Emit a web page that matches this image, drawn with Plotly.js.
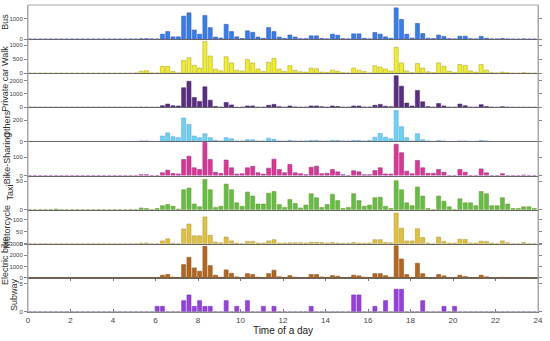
<!DOCTYPE html>
<html>
<head>
<meta charset="utf-8">
<script src="https://cdn.plot.ly/plotly-3.0.1.min.js"></script>
<style>html,body{margin:0;padding:0;background:#fff;}#chart{width:550px;height:341px;}</style>
</head>
<body>
<div id="chart"></div>
<script>
// 15-minute slots, value per slot (slot start = 0:00 ... 23:45), 4 values per hour
const seriesNames = ["Subway", "Electric bike", "Motorcycle", "Taxi", "Bike-Sharing", "Others", "Private car", "Walk", "Bus"];

const bus = [
  0,0,0,0, 0,0,0,0, 0,0,0,0, 0,0,0,0, 0,0,0,0,
  0,15,20,10,      // 5
  0,240,365,110,   // 6
  110,1110,1270,440, // 7
  240,1140,555,100,  // 8
  50,715,365,110,  // 9
  30,400,330,100,  // 10
  40,555,365,100,  // 11
  30,200,100,20,   // 12
  20,160,160,30,   // 13
  10,240,190,20,   // 14
  10,255,255,40,   // 15
  10,320,240,110,  // 16
  40,1510,950,240, // 17
  50,760,270,40,   // 18
  30,200,130,20,   // 19
  10,140,140,20,   // 20
  10,130,40,10,    // 21
  10,30,10,0,      // 22
  0,10,0,0         // 23
];
const walk = [
  0,0,0,0, 0,0,0,0, 0,0,0,0, 0,0,0,0, 0,0,0,0,
  10,70,90,10,
  10,245,245,60,
  10,455,555,285,
  185,1130,615,150,
  85,590,370,110,
  80,490,370,150,
  60,390,530,150,
  60,270,100,50,
  40,185,160,40,
  30,110,70,20,
  10,185,110,60,
  10,270,220,150,
  80,925,370,80,
  20,345,185,50,
  20,370,245,70,
  20,310,285,80,
  40,310,110,20,
  10,40,20,0,
  0,20,0,0
];
const privateCar = [
  0,0,0,0, 0,0,0,0, 0,0,0,0, 0,0,0,0, 0,0,0,0,
  0,10,10,0,
  0,120,240,120,
  100,1460,1950,730,
  440,1530,535,70,
  10,365,180,0,
  10,100,100,10,
  10,150,220,50,
  10,100,30,10,
  10,100,100,40,
  10,100,60,10,
  10,100,100,20,
  20,150,220,80,
  40,2360,1580,315,
  100,1265,410,50,
  10,280,100,10,
  10,240,120,10,
  10,200,60,10,
  0,50,10,0,
  0,0,0,0
];
const others = [
  0,0,0,0, 0,0,0,0, 0,0,0,0, 0,0,0,0, 0,0,0,0,
  0,5,5,0,
  0,50,80,45,
  35,220,160,50,
  35,72,35,10,
  5,35,25,5,
  5,15,15,5,
  5,30,20,5,
  5,10,5,5,
  5,10,10,5,
  5,10,10,5,
  5,10,10,5,
  10,40,75,40,
  25,290,138,35,
  5,72,15,5,
  0,10,5,0,
  0,5,5,0,
  0,10,5,0,
  0,0,0,0,
  0,0,0,0
];
const bikeSharing = [
  0,0,0,0, 0,0,0,0, 0,0,0,0, 0,0,0,0, 0,0,0,0,
  0,5,5,0,
  0,15,29,11,
  9,87,105,42,
  33,180,87,18,
  11,84,42,8,
  10,42,50,15,
  8,40,89,33,
  15,60,15,10,
  5,45,51,10,
  12,33,20,5,
  0,26,20,5,
  5,27,42,9,
  8,170,124,24,
  10,82,42,12,
  12,33,18,0,
  0,33,18,0,
  0,36,15,0,
  0,10,0,0,
  0,3,0,0
];
const taxi = [
  0,0,0,0, 0,1,0,0, 0,0,0,0, 0,0,0,0, 0,0,0,0,
  0,3,2,0,
  2,7,9,6,
  1,35,38,10,
  5,53,35,4,
  6,45,35,12,
  6,31,24,10,
  10,29,32,9,
  4,18,11,3,
  8,28,21,4,
  9,27,16,2,
  4,28,16,6,
  8,21,22,6,
  2,51,35,12,
  7,40,24,2,
  0,24,15,5,
  0,19,12,12,
  7,32,28,7,
  7,21,10,2,
  2,5,5,2
];
const motorcycle = [
  0,0,0,0, 0,0,0,0, 0,0,0,0, 0,0,0,0, 0,0,0,0,
  0,3,3,0,
  0,12,21,2,
  0,62,82,33,
  33,112,35,7,
  4,28,12,3,
  0,10,10,3,
  3,12,17,3,
  3,4,4,4,
  3,6,6,5,
  3,5,3,2,
  2,5,3,2,
  3,17,17,5,
  4,128,65,12,
  12,63,26,3,
  0,28,10,3,
  3,19,18,3,
  3,11,10,3,
  0,12,4,0,
  0,5,0,0
];
const electricBike = [
  0,0,0,0, 0,0,0,0, 0,0,0,0, 0,0,0,0, 0,0,0,0,
  0,30,30,0,
  0,240,300,60,
  30,1180,1830,885,
  590,2800,1090,240,
  60,710,410,90,
  30,380,300,60,
  30,380,680,100,
  30,200,60,0,
  30,300,300,80,
  0,200,150,0,
  0,240,180,60,
  30,380,380,200,
  60,2850,1680,300,
  50,1300,380,40,
  0,300,180,0,
  0,240,120,0,
  0,240,90,0,
  0,50,0,0,
  0,0,0,0
];
const subway = [
  0,0,0,0, 0,0,0,0, 0,0,0,0, 0,0,0,0, 0,0,0,0,
  0,0,0,0,
  1,1,0,0,
  0,2,3,1,
  2,1,1,0,
  0,2,0,1,
  0,2,0,0,
  1,0,1,0,
  0,0,0,0,
  0,1,0,0,
  0,0,0,0,
  0,3,3,0,
  0,1,0,2,
  0,4,4,0,
  0,0,2,0,
  0,0,1,0,
  1,0,0,0,
  0,0,0,0,
  0,0,0,0,
  0,0,0,0
];

const xTicks = [0,2,4,6,8,10,12,14,16,18,20,22,24];

// bottom to top
const panels = [
  {name:"Subway",        y:subway,       range:[0,6],    ticks:[0,5],            fill:"#9b3ce0", line:"#7040c0"},
  {name:"Electric bike", y:electricBike, range:[0,3030], ticks:[0,1000,2000,3000], fill:"#b5661c", line:"#8a5a28"},
  {name:"Motorcycle",    y:motorcycle,   range:[0,142],  ticks:[0,50,100],       fill:"#e2c235", line:"#b09a50"},
  {name:"Taxi",          y:taxi,         range:[0,60],   ticks:[0,50],           fill:"#5fc043", line:"#7a9a3a"},
  {name:"Bike-Sharing",  y:bikeSharing,  range:[0,185],  ticks:[0,100],          fill:"#e4338f", line:"#8e3a9c"},
  {name:"Others",        y:others,       range:[0,320],  ticks:[0,200],          fill:"#66d4f2", line:"#6aa0e0"},
  {name:"Private car",   y:privateCar,   range:[0,2550], ticks:[0,1000,2000],    fill:"#5b2c83", line:"#4a2a6a"},
  {name:"Walk",          y:walk,         range:[0,1220], ticks:[0,500,1000],     fill:"#eef020", line:"#b8a83a"},
  {name:"Bus",           y:bus,          range:[0,1650], ticks:[0,1000],         fill:"#2f80ea", line:"#4657c9"}
];

const slotStart = Array.from({length:96}, (_, k) => k * 0.25);

const n = panels.length;
const traces = [];
const layout = {
  width: 550, height: 341,
  margin: {l: 28, r: 12, t: 5, b: 29},
  paper_bgcolor: "#fff", plot_bgcolor: "#fff",
  showlegend: false,
  bargap: 0,
  font: {family: "Arial, Liberation Sans, sans-serif", color: "#333"},
  shapes: [{type: "rect", xref: "paper", yref: "paper", x0: 0, x1: 1, y0: 0, y1: 1,
            line: {color: "#a8a8a8", width: 1}, layer: "above"}]
};

panels.forEach((p, i) => {
  const sfx = i === 0 ? "" : String(i + 1);
  traces.push({
    type: "bar", x: slotStart, y: p.y, name: p.name,
    xaxis: "x" + sfx, yaxis: "y" + sfx,
    width: 0.19, offset: -0.02,
    marker: {color: p.fill, line: {color: p.line, width: 0.6}},
    hoverinfo: "x+y"
  });
  const d0 = i / n, d1 = (i + 1) / n;
  layout["yaxis" + sfx] = {
    domain: [d0, d1], range: p.range, anchor: "x" + sfx,
    tickvals: p.ticks, ticks: "outside", ticklen: 3, tickcolor: "#888",
    showline: true, linecolor: "#a8a8a8", linewidth: 1, mirror: "ticks",
    showgrid: false, zeroline: false, automargin: false,
    tickfont: {size: 6, color: "#444"},
    title: {text: p.name, font: {size: 9, color: "#333"}, standoff: 0}
  };
  const xa = {
    domain: [0, 1], range: [0, 24], anchor: "y" + sfx,
    showline: true, linecolor: "#666", linewidth: 1,
    showgrid: false, zeroline: false, automargin: false,
    tickvals: xTicks
  };
  if (i === 0) {
    Object.assign(xa, {
      ticks: "inside", ticklen: 3, tickcolor: "#777", mirror: "ticks",
      tickfont: {size: 8, color: "#444"},
      title: {text: "Time of a day", font: {size: 10, color: "#222"}, standoff: 2}
    });
  } else {
    Object.assign(xa, {matches: "x", showticklabels: false, ticks: ""});
  }
  layout["xaxis" + sfx] = xa;
});

Plotly.newPlot("chart", traces, layout, {staticPlot: true, displayModeBar: false});
</script>
</body>
</html>
